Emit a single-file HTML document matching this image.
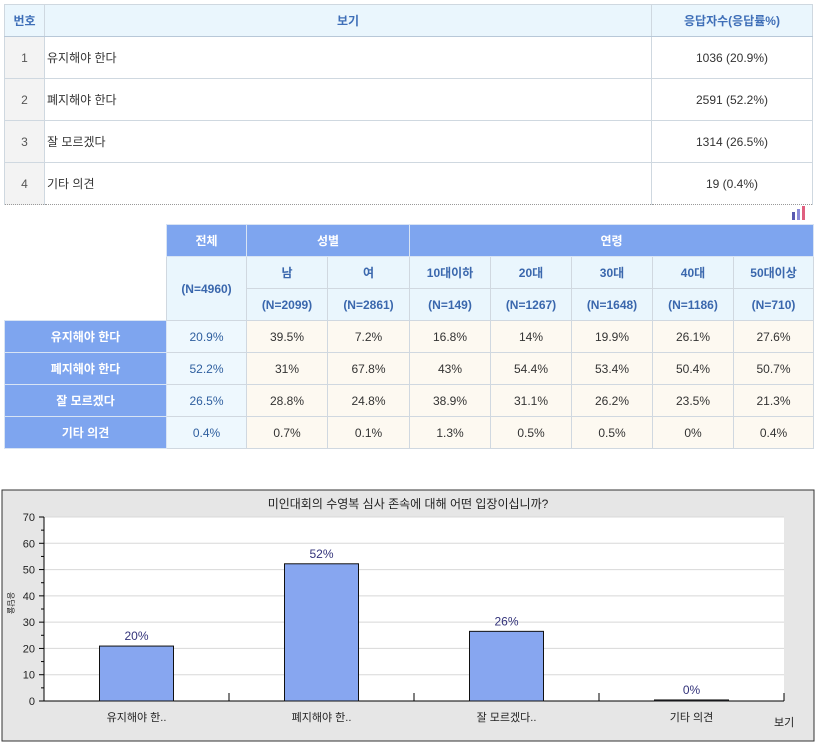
<!DOCTYPE html>
<html><head><meta charset="utf-8">
<style>
body{margin:0;width:816px;height:744px;background:#fff;font-family:"Liberation Sans","Noto Sans CJK KR",sans-serif;font-size:12px;color:#333;position:relative;overflow:hidden}
table{border-collapse:collapse;position:absolute;table-layout:fixed}
td{padding:0;text-align:center}
#t1{left:4px;top:4px;width:808px}
#t1 td{border:1px solid #cfd8e0;height:41px}
#t1 tr.h td{background:#eaf6fd;color:#3f6fb8;font-weight:bold;height:31px;border-bottom:1px solid #b8c8d8}
#t1 td.n{background:#f3f3f3;color:#555}
#t1 td.l{text-align:left;padding-left:2px}
#t1 tr:last-child td{border-bottom:1px dotted #999}
#t2{left:4px;top:224px;width:809px}
#t2 td{border:1px solid #d0d8e0;height:31px}
#t2 td.e{border:none;background:#fff}
#t2 td.hd{background:#7ea5ef;color:#fff;font-weight:bold;border-color:#d8e4f4}
#t2 td.sb{background:#eaf6fd;color:#3a67ad;font-weight:bold}
#t2 td.rh{background:#7ea5ef;color:#fff;font-weight:bold;border-color:#d8e4f4}
#t2 td.tot{background:#eef8fe;color:#2f5f9f}
#t2 td.d{background:#fdf9f1}
</style></head><body>
<table id="t1">
<colgroup><col style="width:40px"><col style="width:607px"><col style="width:161px"></colgroup>
<tr class="h"><td>번호</td><td>보기</td><td>응답자수(응답률%)</td></tr>
<tr><td class="n">1</td><td class="l">유지해야 한다</td><td>1036 (20.9%)</td></tr>
<tr><td class="n">2</td><td class="l">폐지해야 한다</td><td>2591 (52.2%)</td></tr>
<tr><td class="n">3</td><td class="l">잘 모르겠다</td><td>1314 (26.5%)</td></tr>
<tr><td class="n">4</td><td class="l">기타 의견</td><td>19 (0.4%)</td></tr>
</table>
<svg style="position:absolute;left:791px;top:206px" width="16" height="14"><rect x="1" y="6" width="3" height="8" fill="#5a5ab0"/><rect x="6" y="3" width="3" height="11" fill="#8a8ad8"/><rect x="11" y="0" width="3" height="14" fill="#e06080"/></svg>
<table id="t2">
<colgroup><col style="width:162px"><col style="width:80px"><col style="width:81px"><col style="width:82px"><col style="width:81px"><col style="width:81px"><col style="width:81px"><col style="width:81px"><col style="width:80px"></colgroup>
<tr><td class="e" rowspan="3"></td><td class="hd">전체</td><td class="hd" colspan="2">성별</td><td class="hd" colspan="5">연령</td></tr>
<tr><td class="sb" rowspan="2">(N=4960)</td><td class="sb">남</td><td class="sb">여</td><td class="sb">10대이하</td><td class="sb">20대</td><td class="sb">30대</td><td class="sb">40대</td><td class="sb">50대이상</td></tr>
<tr><td class="sb">(N=2099)</td><td class="sb">(N=2861)</td><td class="sb">(N=149)</td><td class="sb">(N=1267)</td><td class="sb">(N=1648)</td><td class="sb">(N=1186)</td><td class="sb">(N=710)</td></tr>
<tr><td class="rh">유지해야 한다</td><td class="tot">20.9%</td><td class="d">39.5%</td><td class="d">7.2%</td><td class="d">16.8%</td><td class="d">14%</td><td class="d">19.9%</td><td class="d">26.1%</td><td class="d">27.6%</td></tr>
<tr><td class="rh">폐지해야 한다</td><td class="tot">52.2%</td><td class="d">31%</td><td class="d">67.8%</td><td class="d">43%</td><td class="d">54.4%</td><td class="d">53.4%</td><td class="d">50.4%</td><td class="d">50.7%</td></tr>
<tr><td class="rh">잘 모르겠다</td><td class="tot">26.5%</td><td class="d">28.8%</td><td class="d">24.8%</td><td class="d">38.9%</td><td class="d">31.1%</td><td class="d">26.2%</td><td class="d">23.5%</td><td class="d">21.3%</td></tr>
<tr><td class="rh">기타 의견</td><td class="tot">0.4%</td><td class="d">0.7%</td><td class="d">0.1%</td><td class="d">1.3%</td><td class="d">0.5%</td><td class="d">0.5%</td><td class="d">0%</td><td class="d">0.4%</td></tr>
</table>
<svg id="chart" style="position:absolute;left:0;top:0" width="816" height="744"></svg>
<script>
const categories=["유지해야 한..","폐지해야 한..","잘 모르겠다..","기타 의견"];
const values=[20.9,52.2,26.5,0.4];
const valueLabels=["20%","52%","26%","0%"];
const yTicks=[0,10,20,30,40,50,60,70];
const svg=document.getElementById('chart');
const NS='http://www.w3.org/2000/svg';
function mk(t,a,txt){const e=document.createElementNS(NS,t);for(const k in a)e.setAttribute(k,a[k]);if(txt!==undefined)e.textContent=txt;svg.appendChild(e);return e;}
const X0=44,X1=784,Y0=701,Y1=517,YMAX=70;
const y=v=>Y0-(v/YMAX)*(Y0-Y1);
const band=(X1-X0)/categories.length;
const xc=i=>X0+band*(i+0.5);
let e;
e=mk('rect',{x:2,y:490,width:812,height:251,fill:'#e6e6e6',stroke:'#333','stroke-width':1});


e=mk('text',{x:408,y:508,'text-anchor':'middle','font-size':12,fill:'#222'},'미인대회의 수영복 심사 존속에 대해 어떤 입장이십니까?');


e=mk('rect',{x:X0,y:Y1,width:X1-X0,height:Y0-Y1,fill:'#fff'});


yTicks.forEach(t=>{
  if(t>0){e=mk('line',{x1:X0,x2:X1,y1:y(t),y2:y(t),stroke:'#d8d8d8'});
  
  }
  e=mk('line',{x1:X0-5,x2:X0,y1:y(t),y2:y(t),stroke:'#000'});
  
  
  if(t<YMAX){e=mk('line',{x1:X0-3,x2:X0,y1:y(t+5),y2:y(t+5),stroke:'#000'});
  
  }
  e=mk('text',{x:X0-9,y:y(t)+4,'text-anchor':'end','font-size':11,fill:'#222'},String(t));
  
  
});
e=mk('line',{x1:X0,x2:X0,y1:Y1,y2:Y0,stroke:'#000'});


e=mk('line',{x1:X0,x2:X1,y1:Y0,y2:Y0,stroke:'#000'});


categories.forEach((c,i)=>{
  const bw=band*0.4;
  e=mk('rect',{x:xc(i)-bw/2,y:y(values[i]),width:bw,height:Math.max(Y0-y(values[i]),1),fill:'#87a6f0',stroke:'#111','stroke-width':1});
  
  
  e=mk('text',{x:xc(i),y:y(values[i])-6,'text-anchor':'middle','font-size':12,fill:'#33337a'},valueLabels[i]);
  
  
  e=mk('line',{x1:X0+band*(i+1),x2:X0+band*(i+1),y1:Y0-8,y2:Y0,stroke:'#000'});
  
  
  e=mk('text',{x:xc(i),y:Y0+20,'text-anchor':'middle','font-size':11,fill:'#222'},c);
  
  
});
e=mk('text',{x:774,y:726,'font-size':11,fill:'#222'},'보기');


e=mk('text',{x:0,y:0,'font-size':8,fill:'#222',transform:'translate(8,592) rotate(90)'},'응답율');


</script>
</body></html>
